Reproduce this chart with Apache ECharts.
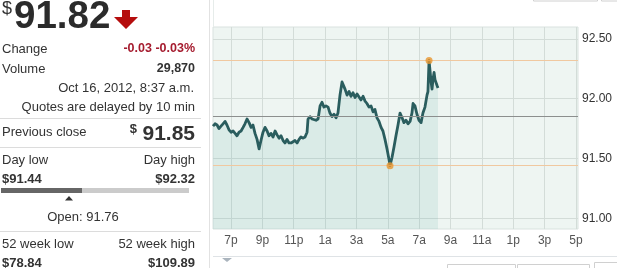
<!DOCTYPE html>
<html><head><meta charset="utf-8">
<script src="https://cdn.jsdelivr.net/npm/echarts@6/dist/echarts.min.js"></script>
<style>html,body{margin:0;padding:0;background:#fff;}#c{width:617px;height:268px;}</style>
</head><body><div id="c"></div>
<script>
// Time of each quote: hours since midnight Oct 15, 2012 (24 = midnight Oct 16)
const times = [17.85,17.98,18.11,18.23,18.36,18.49,18.62,18.74,18.87,19.00,19.13,19.26,19.38,19.51,19.64,19.77,19.89,20.02,20.15,20.28,20.40,20.53,20.66,20.79,20.91,21.04,21.17,21.30,21.42,21.55,21.68,21.81,21.93,22.06,22.19,22.32,22.44,22.57,22.70,22.83,22.95,23.08,23.21,23.34,23.46,23.59,23.72,23.85,23.91,24.04,24.17,24.29,24.42,24.55,24.68,24.80,24.93,25.06,25.19,25.31,25.44,25.57,25.70,25.82,25.95,26.08,26.14,26.27,26.40,26.53,26.65,26.78,26.91,27.04,27.16,27.29,27.42,27.55,27.67,27.80,27.93,28.06,28.18,28.31,28.44,28.57,28.69,28.82,28.95,29.08,29.14,29.27,29.40,29.52,29.65,29.78,29.91,30.03,30.16,30.29,30.42,30.54,30.61,30.73,30.86,30.99,31.12,31.24,31.37,31.50,31.56,31.63,31.76,31.82,31.88,31.95,32.01,32.14,32.20];
const prices = [91.77,91.79,91.78,91.75,91.77,91.79,91.81,91.78,91.74,91.72,91.73,91.71,91.69,91.72,91.73,91.76,91.79,91.83,91.80,91.76,91.78,91.71,91.66,91.58,91.65,91.72,91.76,91.73,91.69,91.71,91.68,91.73,91.70,91.67,91.69,91.65,91.63,91.66,91.63,91.63,91.63,91.65,91.63,91.66,91.68,91.67,91.68,91.72,91.83,91.85,91.83,91.84,91.82,91.83,91.94,91.97,91.93,91.94,91.93,91.88,91.85,91.87,91.84,91.88,92.03,92.14,92.15,92.08,92.03,92.06,92.02,92.05,92.01,92.04,92.03,91.99,92.02,91.98,91.96,91.93,91.94,91.89,91.91,91.84,91.81,91.76,91.73,91.66,91.58,91.49,91.44,91.51,91.60,91.69,91.78,91.88,91.84,91.80,91.82,91.79,91.81,91.88,91.96,91.94,91.87,91.82,91.80,91.88,91.93,92.03,92.06,92.32,92.14,92.08,92.16,92.22,92.16,92.11,92.09];
const xTickHours = [19,21,23,25,27,29,31,33,35,37,39,41];
const xTickLabels = ['7p','9p','11p','1a','3a','5a','7a','9a','11a','1p','3p','5p'];
const yTickValues = [91.0,91.5,92.0,92.5];
const previousClose = 91.85;
const dayLow = 91.44, dayHigh = 92.32;
const dayLowTime = 29.14, dayHighTime = 31.63;

const quote = {
  price: '91.82', change: '-0.03 -0.03%', volume: '29,870',
  stamp: 'Oct 16, 2012, 8:37 a.m.', delay: 'Quotes are delayed by 10 min',
  prevClose: '91.85', dayLow: '$91.44', dayHigh: '$92.32', open: 'Open: 91.76',
  wkLow: '$78.84', wkHigh: '$109.89'
};

const FONT = '"Liberation Sans", Arial, sans-serif';
function t(x, y, text, opt) {
  opt = opt || {};
  return { type: 'text', x: x, y: y, silent: true, style: {
    text: text, fill: opt.color || '#333', align: opt.align || 'left', verticalAlign: 'middle',
    font: (opt.weight || 'normal') + ' ' + (opt.size || 13) + 'px ' + FONT } };
}
function hline(x1, x2, y, c) {
  return { type: 'line', silent: true, shape: { x1: x1, y1: y, x2: x2, y2: y }, style: { stroke: c || '#dcdcdc', lineWidth: 1 } };
}

const graphics = [
  t(2, 9, '$', { size: 18 }),
  t(14, 17, quote.price, { size: 38.5, weight: 'bold', color: '#2b2b2b' }),
  { type: 'polygon', silent: true, shape: { points: [[122,10],[130,10],[130,17],[138,17],[126,29],[114,17],[122,17]] }, style: { fill: '#b50d0d' } },
  t(2, 49, 'Change'),
  t(195, 49, quote.change, { align: 'right', color: '#a51b2e', weight: 'bold', size: 12.5 }),
  t(2, 69, 'Volume'),
  t(195, 69, quote.volume, { align: 'right', weight: 'bold', size: 12.5 }),
  t(194, 88, quote.stamp, { align: 'right' }),
  t(195, 107, quote.delay, { align: 'right' }),
  hline(0, 201, 118.5),
  t(2, 132, 'Previous close'),
  t(137, 129, '$', { align: 'right', weight: 'bold', size: 13 }),
  t(195, 134, quote.prevClose, { align: 'right', weight: 'bold', size: 21 }),
  hline(0, 201, 147.5),
  t(2, 160, 'Day low'),
  t(195, 160, 'Day high', { align: 'right' }),
  t(2, 179, quote.dayLow, { weight: 'bold' }),
  t(195, 179, quote.dayHigh, { align: 'right', weight: 'bold' }),
  { type: 'rect', silent: true, shape: { x: 1, y: 188, width: 188, height: 5 }, style: { fill: '#cbcbcb' } },
  { type: 'rect', silent: true, shape: { x: 1, y: 188, width: 81, height: 5 }, style: { fill: '#666666' } },
  { type: 'polygon', silent: true, shape: { points: [[65,200.5],[73,200.5],[69,196]] }, style: { fill: '#333' } },
  t(83, 217, quote.open, { align: 'center' }),
  hline(0, 201, 231.5),
  t(2, 244, '52 week low'),
  t(195, 244, '52 week high', { align: 'right' }),
  t(2, 263, quote.wkLow, { weight: 'bold' }),
  t(195, 263, quote.wkHigh, { align: 'right', weight: 'bold' }),
  // panel separators and surrounding chrome
  { type: 'line', silent: true, shape: { x1: 209.5, y1: 0, x2: 209.5, y2: 268 }, style: { stroke: '#e2e2e2', lineWidth: 1 } },
  { type: 'line', silent: true, shape: { x1: 213.5, y1: 0, x2: 213.5, y2: 27 }, style: { stroke: '#e6ecea', lineWidth: 1 } },
  hline(213, 617, 256.5, '#dfe3e6'),
  { type: 'polygon', silent: true, shape: { points: [[222,258],[232,258],[227,262]] }, style: { fill: '#aab4bd' } },
  { type: 'rect', silent: true, shape: { x: 533.5, y: -10, width: 64, height: 11 }, style: { fill: '#fff', stroke: '#d0d0d0' } },
  { type: 'rect', silent: true, shape: { x: 601.5, y: -10, width: 30, height: 11 }, style: { fill: '#fff', stroke: '#d0d0d0' } },
  { type: 'rect', silent: true, shape: { x: 447.5, y: 264.5, width: 68, height: 12 }, style: { fill: '#fff', stroke: '#d0d0d0' } },
  { type: 'rect', silent: true, shape: { x: 517.5, y: 264.5, width: 72, height: 12 }, style: { fill: '#fff', stroke: '#d0d0d0' } },
  { type: 'rect', silent: true, shape: { x: 594.5, y: 262.5, width: 30, height: 12 }, style: { fill: '#fff', stroke: '#d0d0d0' } }
];

const chart = echarts.init(document.getElementById('c'), null, { renderer: 'canvas' });
chart.setOption({
  animation: false,
  backgroundColor: '#ffffff',
  grid: { left: 213, right: 39, top: 27, bottom: 39, show: true, backgroundColor: '#eef5f2', borderColor: '#d9e2df', borderWidth: 1 },
  xAxis: {
    type: 'value', min: 17.85, max: 41.13,
    axisLine: { show: false }, axisTick: { show: false, customValues: xTickHours },
    axisLabel: { customValues: xTickHours, margin: 6, color: '#555', fontSize: 12, fontFamily: FONT,
      formatter: function (v) { const i = xTickHours.indexOf(Math.round(v)); return i >= 0 ? xTickLabels[i] : ''; } },
    splitLine: { show: true, lineStyle: { color: '#d3dcd8', width: 1 } }
  },
  yAxis: {
    type: 'value', position: 'right', min: 90.91, max: 92.6,
    axisLine: { show: false }, axisTick: { show: false, customValues: yTickValues },
    axisLabel: { customValues: yTickValues, margin: 4, color: '#333', fontSize: 12, fontFamily: FONT,
      formatter: function (v) { return v.toFixed(2); } },
    splitLine: { show: true, lineStyle: { color: '#d3dcd8', width: 1 } }
  },
  series: [
    {
      type: 'line', data: times.map(function (h, i) { return [h, prices[i]]; }),
      showSymbol: false, symbol: 'none',
      lineStyle: { color: '#2a5d5e', width: 2.8, join: 'round' },
      areaStyle: { color: 'rgba(90,170,165,0.19)', origin: 'start' },
      z: 3,
      markLine: {
        silent: true, symbol: 'none', label: { show: false }, animation: false,
        data: [
          { yAxis: previousClose, lineStyle: { color: '#8c8f8e', width: 1, type: 'solid' } },
          { yAxis: dayHigh, lineStyle: { color: '#f0c8a0', width: 1, type: 'solid' } },
          { yAxis: dayLow, lineStyle: { color: '#f0c8a0', width: 1, type: 'solid' } }
        ]
      }
    },
    {
      type: 'scatter', z: 5, symbolSize: 7, silent: true,
      itemStyle: { color: '#e8962f' },
      data: [[dayLowTime, dayLow], [dayHighTime, dayHigh]]
    }
  ],
  graphic: graphics
});
</script></body></html>
